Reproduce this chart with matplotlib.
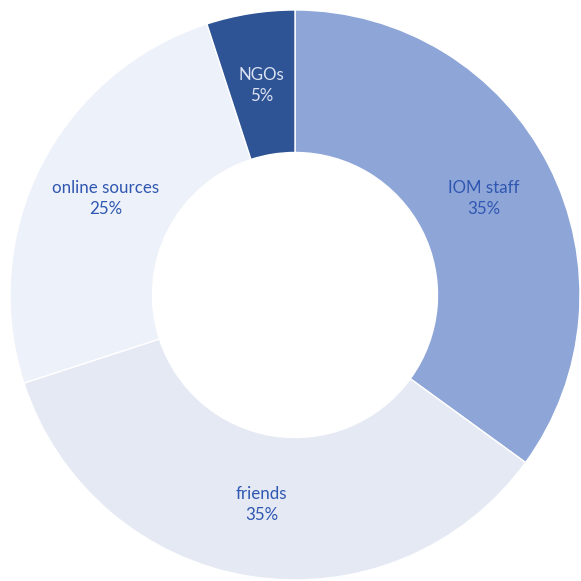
import numpy as np
import matplotlib
matplotlib.use("Agg")
import matplotlib.pyplot as plt

labels = ["IOM staff", "friends", "online sources", "NGOs"]
values = [35, 35, 25, 5]
colors = ["#8EA5D8", "#E4E9F4", "#EDF1F9", "#2F5496"]
text_colors = ["#2F56B0", "#2F56B0", "#2F56B0", "#DCE3F2"]

plt.rcParams["font.family"] = ["Lato", "DejaVu Sans"]

fig = plt.figure(figsize=(5.81, 5.81), dpi=100)
ax = fig.add_axes([0, 0, 1, 1])

wedges, _ = ax.pie(values, colors=colors, startangle=90, counterclock=False,
                   radius=1.0, wedgeprops=dict(width=0.5, edgecolor="white", linewidth=1))

# labels in the middle of the ring
for w, lab, v, tc in zip(wedges, labels, values, text_colors):
    ang = np.deg2rad((w.theta1 + w.theta2) / 2)
    r = 0.745
    ax.text(r * np.cos(ang), r * np.sin(ang), f"{lab}\n{v}%", ha="center", va="center",
            fontsize=12.2, color=tc, linespacing=1.35)

ax.set_xlim(-1.035, 1.0035)
ax.set_ylim(-1.0035, 1.035)
ax.set_aspect("equal")
ax.axis("off")

fig.savefig("out.png", dpi=100, facecolor="white")
